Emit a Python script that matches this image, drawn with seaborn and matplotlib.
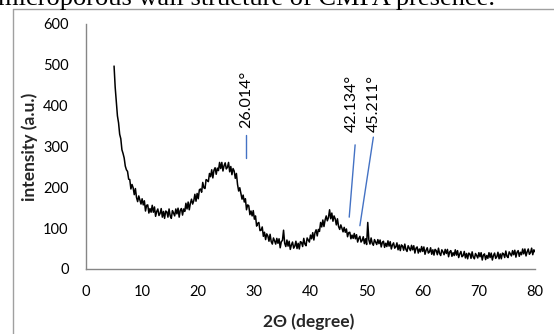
import numpy as np
import pandas as pd
import matplotlib
matplotlib.use("Agg")
import matplotlib.pyplot as plt
import seaborn as sns
from matplotlib.lines import Line2D

# ---------------- data ----------------
two_theta_start = 5.0
two_theta_step = 0.2
intensity = [
    497, 445, 411, 375, 358,   # 5
    330, 319, 292, 283, 272,   # 6
    252, 243, 239, 220, 219,   # 7
    196, 207, 199, 182, 197,   # 8
    175, 165, 179, 169, 159,   # 9
    172, 157, 167, 142, 156,   # 10
    157, 137, 148, 139, 156,   # 11
    139, 152, 129, 141, 147,   # 12
    131, 136, 148, 127, 141,   # 13
    124, 142, 140, 127, 147,   # 14
    130, 124, 143, 137, 130,   # 15
    147, 135, 149, 127, 144,   # 16
    148, 132, 147, 141, 161,   # 17
    147, 164, 145, 161, 171,   # 18
    159, 167, 183, 166, 185,   # 19
    172, 194, 196, 188, 212,   # 20
    199, 197, 219, 217, 214,   # 21
    234, 226, 243, 223, 242,   # 22
    248, 232, 247, 241, 261,   # 23
    246, 261, 240, 253, 260,   # 24
    245, 249, 261, 238, 251,   # 25
    231, 246, 240, 222, 234,   # 26
    207, 191, 199, 185, 171,   # 27
    181, 164, 172, 145, 157,   # 28
    155, 133, 142, 130, 143,   # 29
    122, 130, 105, 112, 114,   # 30
    94, 95, 103, 80, 90,       # 31
    72, 86, 81, 68, 85,        # 32
    67, 61, 76, 69, 61,        # 33
    75, 63, 74, 52, 67,        # 34
    70, 95, 63, 55, 71,        # 35
    56, 68, 48, 59, 66,        # 36
    51, 56, 68, 50, 63,        # 37
    49, 67, 65, 55, 75,        # 38
    61, 57, 76, 71, 66,        # 39
    83, 74, 89, 71, 89,        # 40
    96, 81, 97, 92, 114,       # 41
    103, 120, 104, 120, 130,   # 42
    118, 126, 145, 123, 137,   # 43
    117, 130, 123, 108, 123,   # 44
    104, 97, 108, 100, 91,     # 45
    102, 90, 98, 79, 89,       # 46
    90, 74, 83, 75, 87,        # 47
    74, 84, 66, 75, 80,        # 48
    66, 70, 79, 62, 74,        # 49
    60, 114, 71, 61, 76,       # 50
    63, 58, 72, 66, 60,        # 51
    72, 62, 71, 54, 65,        # 52
    68, 53, 63, 55, 69,        # 53
    56, 67, 49, 59, 64,        # 54
    51, 54, 64, 47, 59,        # 55
    45, 59, 56, 46, 61,        # 56
    48, 43, 57, 51, 45,        # 57
    58, 47, 57, 39, 51,        # 58
    54, 39, 49, 42, 55,        # 59
    43, 54, 36, 46, 52,        # 60
    39, 42, 52, 36, 47,        # 61
    34, 48, 45, 35, 51,        # 62
    38, 33, 47, 42, 35,        # 63
    48, 38, 48, 30, 42,        # 64
    45, 31, 40, 33, 47,        # 65
    34, 45, 28, 37, 43,        # 66
    30, 33, 43, 27, 38,        # 67
    25, 39, 37, 26, 42,        # 68
    29, 25, 38, 33, 27,        # 69
    40, 30, 40, 22, 34,        # 70
    37, 23, 33, 26, 40,        # 71
    28, 39, 22, 33, 39,        # 72
    26, 30, 41, 25, 37,        # 73
    25, 39, 37, 28, 44,        # 74
    31, 28, 42, 37, 32,        # 75
    45, 35, 46, 29, 41,        # 76
    45, 31, 41, 35, 49,        # 77
    37, 49, 32, 42, 49,        # 78
    36, 40, 51, 35, 47,        # 79
    42,                        # 80
]
two_theta = two_theta_start + two_theta_step * np.arange(len(intensity))

peak_labels = ["26.014°", "42.134°", "45.211°"]
peak_text_x = [28.6, 47.3, 51.3]
peak_text_y = [345, 336, 336]
peak_line_x0 = [28.5, 46.9, 48.8]
peak_line_y0 = [272, 127, 106]
peak_line_x1 = [28.5, 47.95, 51.2]
peak_line_y1 = [328, 304, 323]

x_ticks = [0, 10, 20, 30, 40, 50, 60, 70, 80]
y_ticks = [0, 100, 200, 300, 400, 500, 600]

# ---------------- style ----------------
sns.set_style("white")
plt.rcParams["font.family"] = ["Lato", "DejaVu Sans"]

W, H = 554, 334
fig = plt.figure(figsize=(W / 100, H / 100), dpi=100)
ax = fig.add_axes([86 / W, 1 - 269 / H, (535 - 86) / W, (269 - 24) / H])

df = pd.DataFrame({"two_theta": two_theta, "intensity": intensity})
sns.lineplot(data=df, x="two_theta", y="intensity", ax=ax, color="black",
             linewidth=1.1, estimator=None, sort=False)

blue = "#4472C4"
for lab, tx, ty, x0, y0, x1, y1 in zip(peak_labels, peak_text_x, peak_text_y,
                                        peak_line_x0, peak_line_y0,
                                        peak_line_x1, peak_line_y1):
    ax.plot([x0, x1], [y0, y1], color=blue, linewidth=1)
    ax.text(tx, ty, lab, rotation=90, ha="center", va="bottom", fontsize=11.5,
            color="black")

ax.set_xlim(0, 80)
ax.set_ylim(0, 600)
ax.set_xticks(x_ticks)
ax.set_yticks(y_ticks)

for s in ["top", "right"]:
    ax.spines[s].set_visible(False)
for s in ["left", "bottom"]:
    ax.spines[s].set_color("#868686")
    ax.spines[s].set_linewidth(1)

ax.tick_params(axis="both", direction="out", length=4.5, width=1,
               color="#868686", labelsize=10.5, labelcolor="black")
ax.tick_params(axis="y", pad=8)
ax.tick_params(axis="x", pad=7)

ax.set_xlabel("2Θ (degree)", fontsize=12.5, fontweight="bold")
ax.set_ylabel("intensity (a.u.)", fontsize=12.5, fontweight="bold")
ax.xaxis.set_label_coords(0.497, -0.216)
ax.xaxis.label.set_va("center")
ax.yaxis.set_label_coords(-0.125, 0.5)
ax.yaxis.label.set_va("center")

# outer frame (chart border)
frame_color = "#A0A0A0"
fig.add_artist(Line2D([12.5 / W, 12.5 / W], [0, 1 - 8.5 / H],
                      transform=fig.transFigure, color=frame_color, linewidth=1))
fig.add_artist(Line2D([12.5 / W, 1], [1 - 8.5 / H, 1 - 8.5 / H],
                      transform=fig.transFigure, color=frame_color, linewidth=1))

# clipped text line above the chart
fig.text(-2 / W, 1 - 5 / H, "microporous wall structure of CMPA presence.",
         family=["Liberation Serif", "DejaVu Serif"], fontsize=19,
         ha="left", va="baseline", color="black")

fig.savefig("out.png", dpi=100)
